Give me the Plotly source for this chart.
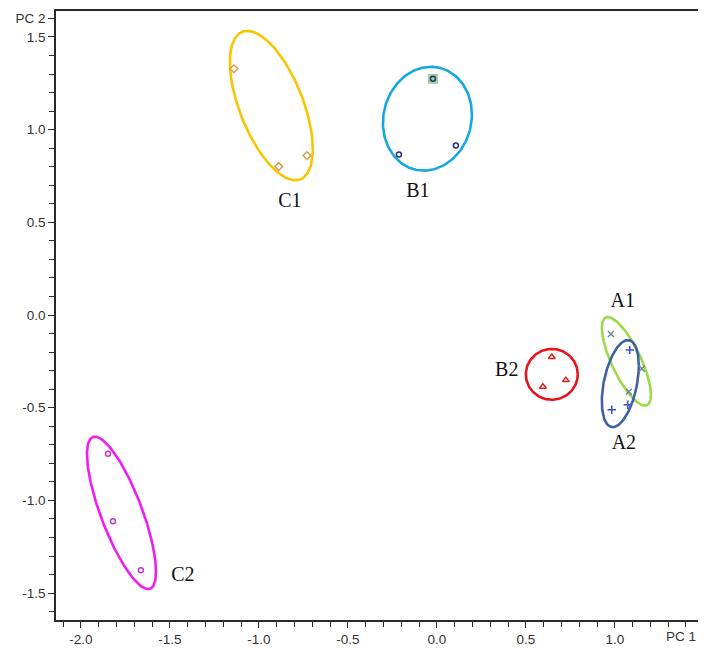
import numpy as np
import plotly.graph_objects as go

# ---- data ----
C1_x = [-1.14, -0.888, -0.730]
C1_y = [1.328, 0.801, 0.860]
B1_x = [-0.022, 0.107, -0.213]
B1_y = [1.274, 0.914, 0.866]
B2_x = [0.646, 0.725, 0.596]
B2_y = [-0.226, -0.351, -0.387]
A1_x = [0.978, 1.152, 1.079]
A1_y = [-0.102, -0.290, -0.414]
A2_x = [1.084, 1.073, 0.983]
A2_y = [-0.188, -0.484, -0.511]
C2_x = [-1.848, -1.820, -1.663]
C2_y = [-0.748, -1.113, -1.376]

# ellipse parameters: centre x, centre y, half-width, half-height, correlation
ell_names = ["C1", "B1", "B2", "A1", "A2", "C2"]
ell_cx = [-0.93, -0.053, 0.646, 1.065, 1.031, -1.772]
ell_cy = [1.13, 1.059, -0.32, -0.25, -0.37, -1.067]
ell_sx = [0.233, 0.25, 0.146, 0.138, 0.104, 0.194]
ell_sy = [0.403, 0.28, 0.137, 0.239, 0.235, 0.411]
ell_r = [-0.58, 0.08, 0.0, -0.755, 0.41, -0.77]
ell_colors = ["#F7C600", "#14A9E1", "#E8141C", "#9BDB4A", "#3E62A2", "#F01CF0"]

label_text = ["C1", "B1", "B2", "A1", "A2", "C2"]
label_x = [-0.826, -0.107, 0.393, 1.045, 1.051, -1.427]
label_y = [0.608, 0.661, -0.301, 0.07, -0.694, -1.409]

x_tickvals = [-2.0, -1.5, -1.0, -0.5, 0.0, 0.5, 1.0]
x_ticktext = ["-2.0", "-1.5", "-1.0", "-0.5", "0.0", "0.5", "1.0"]
x_title_text = "PC 1"
x_title_pos = 1.372
y_tickvals = [-1.5, -1.0, -0.5, 0.0, 0.5, 1.0, 1.5, 1.6]
y_ticktext = ["-1.5", "-1.0", "-0.5", "0.0", "0.5", "1.0", "1.5", "PC 2"]

fig = go.Figure()

t = np.linspace(0, 2 * np.pi, 200)
for cx, cy, sx, sy, r, col in zip(ell_cx, ell_cy, ell_sx, ell_sy, ell_r, ell_colors):
    ex = cx + sx * np.cos(t)
    ey = cy + sy * (r * np.cos(t) + np.sqrt(1 - r * r) * np.sin(t))
    fig.add_trace(go.Scatter(x=ex, y=ey, mode="lines",
                             line=dict(color=col, width=2.6), hoverinfo="skip"))

# highlight square behind one B1 point
fig.add_trace(go.Scatter(x=[B1_x[0]], y=[B1_y[0]], mode="markers",
                         marker=dict(symbol="square", size=10, color="#9ED49A")))

series = [
    (C1_x, C1_y, "diamond-open", "#D6A04E", 6),
    (B1_x, B1_y, "circle-open", "#2E2E86", 5),
    (B2_x, B2_y, "triangle-up-open", "#D82020", 6),
    (A1_x, A1_y, "x-thin-open", "#6F86A0", 6),
    (A2_x, A2_y, "cross-thin-open", "#3C50C8", 6),
    (C2_x, C2_y, "circle-open", "#C03CC8", 5),
]
for xs, ys, sym, col, sz in series:
    fig.add_trace(go.Scatter(x=xs, y=ys, mode="markers",
                             marker=dict(symbol=sym, size=sz, color=col,
                                         line=dict(color=col, width=1.5))))

fig.add_trace(go.Scatter(x=label_x, y=label_y, mode="text", text=label_text,
                         textfont=dict(family="Liberation Serif", size=20, color="#111111")))

tick_font = dict(family="Liberation Sans", size=13.5, color="#333333")
axis_common = dict(showline=True, linecolor="#2a2a2a", linewidth=1.6, mirror=True,
                   ticks="outside", ticklen=6, tickcolor="#2a2a2a", tickwidth=1.4,
                   showgrid=False, zeroline=False, tickfont=tick_font)

fig.add_annotation(x=x_title_pos, y=0, xref="x", yref="paper", yanchor="top",
                   yshift=-7, text=x_title_text, showarrow=False, font=tick_font)

fig.update_layout(
    width=698, height=642,
    margin=dict(l=48, r=4, t=1, b=30),
    plot_bgcolor="white", paper_bgcolor="white",
    showlegend=False,
    xaxis=dict(range=[-2.14, 1.49], tickmode="array", tickvals=x_tickvals, ticktext=x_ticktext,
               minor=dict(tickmode="linear", tick0=0, dtick=0.1, ticklen=5, ticks="outside",
                          tickcolor="#2a2a2a", tickwidth=1.3),
               **axis_common),
    yaxis=dict(range=[-1.645, 1.64], tickmode="array", tickvals=y_tickvals, ticktext=y_ticktext,
               minor=dict(tickmode="linear", tick0=0, dtick=0.1, ticklen=5, ticks="outside",
                          tickcolor="#2a2a2a", tickwidth=1.3),
               **axis_common),
)

fig.write_html("out.html")
